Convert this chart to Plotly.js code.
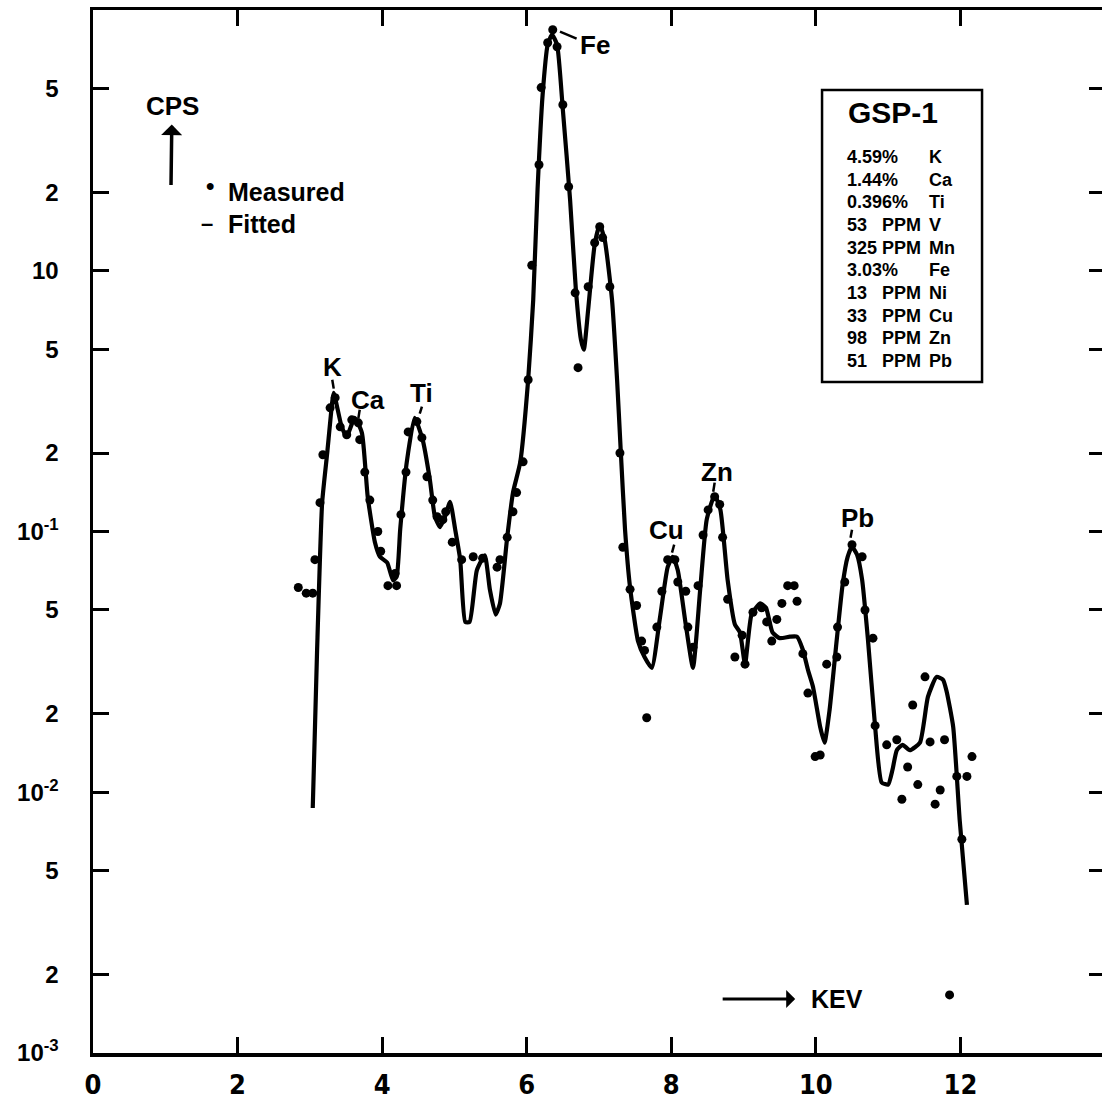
<!DOCTYPE html>
<html><head><meta charset="utf-8">
<script src="https://cdn.plot.ly/plotly-3.0.1.min.js"></script>
<style>html,body{margin:0;padding:0;overflow:hidden;background:#fff}#chart{width:1130px;height:1110px}</style>
</head><body><div id="chart"></div>
<script>
// Measured spectrum (dots), energy in keV, counts per second
const measuredKeV = [2.84,2.95,3.04,3.07,3.14,3.18,3.28,3.35,3.42,3.51,3.58,3.67,3.69,3.76,3.83,3.94,3.98,4.08,4.18,4.20,
  4.26,4.33,4.36,4.48,4.55,4.62,4.70,4.76,4.84,4.88,4.97,5.10,5.26,5.39,5.59,5.63,5.73,5.81,5.86,5.95,
  6.02,6.07,6.17,6.20,6.29,6.36,6.42,6.50,6.58,6.67,6.71,6.85,6.94,7.01,7.05,7.15,7.29,7.33,7.43,7.52,
  7.59,7.63,7.66,7.80,7.87,7.95,8.05,8.09,8.20,8.23,8.30,8.37,8.44,8.51,8.60,8.67,8.71,8.78,8.88,8.98,
  9.02,9.13,9.25,9.32,9.39,9.46,9.53,9.61,9.70,9.74,9.82,9.89,9.99,10.06,10.15,10.29,10.30,10.40,10.50,10.64,
  10.68,10.79,10.82,10.98,11.12,11.19,11.27,11.34,11.41,11.51,11.58,11.65,11.72,11.78,11.85,11.95,12.02,12.09,12.16];
const measuredCps = [0.061,0.058,0.058,0.078,0.129,0.197,0.298,0.326,0.252,0.235,0.268,0.261,0.225,0.169,0.132,0.100,0.084,0.062,0.069,0.062,
  0.116,0.169,0.241,0.264,0.229,0.162,0.132,0.114,0.111,0.119,0.091,0.078,0.080,0.079,0.073,0.078,0.095,0.119,0.141,0.185,
  0.382,1.05,2.55,5.04,7.49,8.40,7.23,4.33,2.10,0.823,0.425,0.868,1.28,1.475,1.34,0.868,0.200,0.087,0.060,0.052,
  0.038,0.035,0.0193,0.043,0.059,0.078,0.078,0.064,0.059,0.043,0.036,0.062,0.097,0.121,0.136,0.127,0.095,0.055,0.033,0.040,
  0.031,0.049,0.051,0.045,0.038,0.046,0.053,0.062,0.062,0.054,0.034,0.024,0.0137,0.0139,0.031,0.033,0.043,0.064,0.089,0.080,
  0.050,0.039,0.018,0.0152,0.0159,0.0094,0.0125,0.0216,0.0107,0.0277,0.0156,0.0090,0.0102,0.0159,0.00167,0.0115,0.0066,0.0115,0.0137];

// Fitted spectrum (line)
const fittedKeV = [3.04,3.10,3.17,3.24,3.31,3.33,3.44,3.51,3.62,3.72,3.80,3.90,3.97,4.07,4.15,4.20,4.25,4.34,4.45,4.56,
  4.66,4.73,4.80,4.87,4.94,5.01,5.08,5.15,5.21,5.31,5.42,5.49,5.57,5.63,5.73,5.81,5.91,6.02,6.09,6.15,
  6.22,6.29,6.35,6.42,6.50,6.60,6.68,6.75,6.79,6.85,6.94,7.01,7.08,7.18,7.25,7.30,7.36,7.43,7.54,7.63,
  7.73,7.84,7.95,8.02,8.09,8.20,8.30,8.40,8.49,8.60,8.68,8.78,8.88,8.95,9.02,9.11,9.23,9.31,9.40,9.50,
  9.64,9.74,9.82,9.89,9.96,10.06,10.12,10.19,10.29,10.37,10.44,10.50,10.57,10.64,10.72,10.82,10.91,11.00,11.06,11.12,
  11.20,11.30,11.44,11.55,11.67,11.76,11.81,11.90,11.99,12.09];
const fittedCps = [0.0087,0.035,0.129,0.200,0.315,0.340,0.252,0.231,0.273,0.239,0.136,0.091,0.080,0.076,0.065,0.067,0.102,0.184,0.273,0.225,
  0.158,0.114,0.104,0.114,0.130,0.102,0.078,0.045,0.045,0.071,0.081,0.060,0.048,0.053,0.095,0.141,0.184,0.382,0.774,2.05,
  4.73,7.36,8.04,7.36,4.14,1.87,0.846,0.544,0.498,0.709,1.26,1.50,1.31,0.774,0.382,0.206,0.102,0.061,0.038,0.033,
  0.030,0.046,0.073,0.080,0.071,0.044,0.030,0.060,0.111,0.138,0.121,0.065,0.044,0.041,0.031,0.048,0.053,0.051,0.041,0.039,
  0.0395,0.0395,0.0352,0.0295,0.0254,0.0178,0.0155,0.0207,0.0387,0.0625,0.080,0.0873,0.0814,0.0653,0.0387,0.0178,0.0109,0.0107,0.0122,0.0145,
  0.0152,0.0145,0.0155,0.0232,0.0277,0.0270,0.0243,0.0178,0.0078,0.0037];

const xTickVals = [0,2,4,6,8,10,12];
const xTickText = ['0','2','4','6','8','10','12'];
const yTickVals = [0.001,0.002,0.005,0.01,0.02,0.05,0.1,0.2,0.5,1,2,5];
const yTickText = ['10<sup>-3</sup>','2','5','10<sup>-2</sup>','2','5','10<sup>-1</sup>','2','5','10','2','5'];

// Peak labels and their leader strokes
const peakLabels = ['K','Ca','Ti','Fe','Cu','Zn','Pb'];
const peakLabelKeV = [3.31,3.80,4.55,6.94,7.94,8.63,10.57];
const peakLabelCps = [0.428,0.320,0.340,7.36,0.1015,0.169,0.113];
const leaderFromKeV = [3.31,3.69,4.55,6.46,8.04,8.60,10.50];
const leaderFromCps = [0.382,0.293,0.301,8.26,0.089,0.154,0.1015];
const leaderToKeV = [3.33,3.67,4.52,6.69,8.01,8.58,10.48];
const leaderToCps = [0.353,0.271,0.283,7.76,0.083,0.142,0.0946];

// Sample composition box
const sampleName = 'GSP-1';
const gspValues = ['4.59','1.44','0.396%','53','325','3.03','13','33','98','51'];
const gspUnits = ['%','%','','PPM','PPM','%','PPM','PPM','PPM','PPM'];
const gspElements = ['K','Ca','Ti','V','Mn','Fe','Ni','Cu','Zn','Pb'];

const FONT = 'Liberation Sans, Arial, sans-serif';
const NARROW = 'Liberation Sans Narrow, DejaVu Sans Condensed, Liberation Sans, sans-serif';
const bold = (size, fam) => ({family: fam || FONT, size: size, color: '#000', weight: 700});

// leader strokes built from the arrays
const leadX = [], leadY = [];
leaderFromKeV.forEach((v, i) => {
  leadX.push(v, leaderToKeV[i], null);
  leadY.push(leaderFromCps[i], leaderToCps[i], null);
});

const traces = [
  {x: fittedKeV, y: fittedCps, mode: 'lines', name: 'Fitted',
   line: {color: '#000', width: 4.2, shape: 'spline', smoothing: 0.5}, showlegend: false, hoverinfo: 'x+y'},
  {x: measuredKeV, y: measuredCps, mode: 'markers', name: 'Measured',
   marker: {color: '#000', size: 9, symbol: 'circle'}, showlegend: false, hoverinfo: 'x+y'},
  {x: leadX, y: leadY, mode: 'lines', line: {color: '#000', width: 2.5}, showlegend: false, hoverinfo: 'skip', connectgaps: false}
];

const ann = [];
peakLabels.forEach((t, i) => {
  ann.push({x: peakLabelKeV[i], y: Math.log10(peakLabelCps[i]), xref: 'x', yref: 'y', text: t,
            showarrow: false, font: bold(26), xanchor: 'center', yanchor: 'middle'});
});
// CPS label with upward arrow (arrowhead at the text end)
ann.push({x: 0.0771, y: 0.8322, xref: 'paper', yref: 'paper', ax: 1, ay: -79, text: 'CPS', showarrow: true,
          arrowside: 'start', arrowhead: 2, arrowsize: 1.5, arrowwidth: 3.5, arrowcolor: '#000',
          startstandoff: 2, font: bold(26)});
// legend-like labels
ann.push({x: 0.1156, y: 0.8313, xref: 'paper', yref: 'paper', text: '\u2022', showarrow: false, font: bold(24), xanchor: 'center', yanchor: 'middle'});
ann.push({x: 0.1314, y: 0.8255, xref: 'paper', yref: 'paper', text: 'Measured', showarrow: false, font: bold(25), xanchor: 'left', yanchor: 'middle'});
ann.push({x: 0.1126, y: 0.7955, xref: 'paper', yref: 'paper', text: '\u2013', showarrow: false, font: bold(22), xanchor: 'center', yanchor: 'middle'});
ann.push({x: 0.1314, y: 0.7948, xref: 'paper', yref: 'paper', text: 'Fitted', showarrow: false, font: bold(25), xanchor: 'left', yanchor: 'middle'});
// KEV label with rightward arrow (arrowhead at the text end)
ann.push({x: 0.6222, y: 0.0518, xref: 'paper', yref: 'paper', ax: 114, ay: 0, text: 'KEV', showarrow: true,
          arrowside: 'start', arrowhead: 2, arrowsize: 1.5, arrowwidth: 3, arrowcolor: '#000',
          startstandoff: 14, font: bold(25)});
// composition box
ann.push({x: 0.7905, y: 0.9022, xref: 'paper', yref: 'paper', text: sampleName, showarrow: false, font: bold(30), xanchor: 'center', yanchor: 'middle'});
gspValues.forEach((v, i) => {
  const yy = (1053 - (157 + 22.67 * i)) / 1043;
  ann.push({x: 0.7431, y: yy, xref: 'paper', yref: 'paper', text: v, showarrow: false, font: bold(18), xanchor: 'left', yanchor: 'middle'});
  if (gspUnits[i]) ann.push({x: 0.7777, y: yy, xref: 'paper', yref: 'paper', text: gspUnits[i], showarrow: false, font: bold(18), xanchor: 'left', yanchor: 'middle'});
  ann.push({x: 0.8241, y: yy, xref: 'paper', yref: 'paper', text: gspElements[i], showarrow: false, font: bold(18), xanchor: 'left', yanchor: 'middle'});
});

const layout = {
  width: 1130, height: 1110,
  margin: {l: 93, r: 25, t: 10, b: 57},
  paper_bgcolor: '#fff', plot_bgcolor: '#fff',
  showlegend: false,
  xaxis: {range: [0, 14], tickvals: xTickVals, ticktext: xTickText, ticks: 'inside', ticklen: 16, tickwidth: 3,
          tickcolor: '#000', showline: true, linewidth: 3.5, linecolor: '#000', mirror: 'ticks',
          showgrid: false, zeroline: false, tickfont: bold(27, NARROW), ticklabelstandoff: 5},
  yaxis: {type: 'log', range: [-3, 1], tickvals: yTickVals, ticktext: yTickText, ticks: 'inside', ticklen: 16, tickwidth: 3,
          tickcolor: '#000', showline: true, linewidth: 3.5, linecolor: '#000', mirror: 'ticks',
          showgrid: false, zeroline: false, tickfont: bold(24), ticklabelstandoff: 26},
  shapes: [{type: 'rect', xref: 'paper', yref: 'paper', x0: 0.7204, x1: 0.8785, y0: 0.6433, y1: 0.9233,
            line: {color: '#000', width: 2.5}, fillcolor: 'rgba(0,0,0,0)'}],
  annotations: ann
};

Plotly.newPlot('chart', traces, layout, {staticPlot: true, displayModeBar: false});
</script></body></html>
